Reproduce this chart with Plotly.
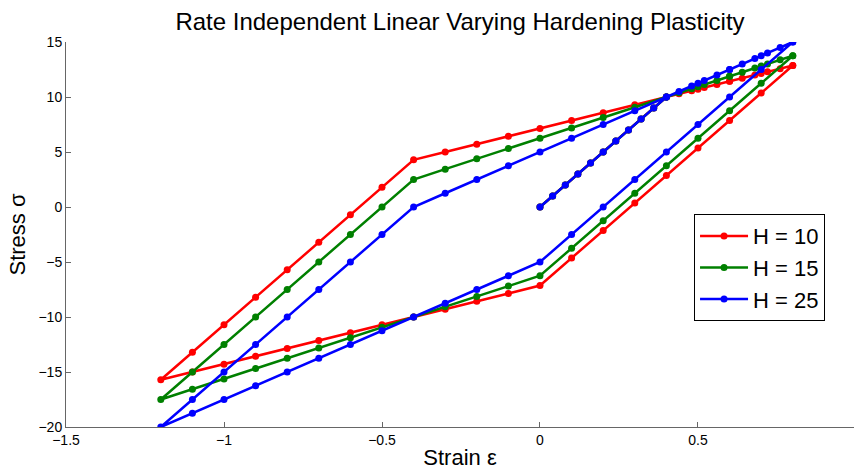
import plotly.graph_objects as go

# Strain path (loading 0->0.8, unloading to -1.2, reloading to 0.8)
strain = [0.0, 0.04, 0.08, 0.12, 0.16, 0.2, 0.24, 0.28, 0.32, 0.36, 0.4,
          0.44, 0.48, 0.52, 0.56, 0.6, 0.64, 0.68, 0.72, 0.76, 0.8,
          0.7, 0.6, 0.5, 0.4, 0.3, 0.2, 0.1, 0.0,
          -0.1, -0.2, -0.3, -0.4, -0.5, -0.6, -0.7, -0.8, -0.9, -1.0, -1.1, -1.2,
          -1.1, -1.0, -0.9, -0.8, -0.7, -0.6, -0.5, -0.4,
          -0.3, -0.2, -0.1, 0.0, 0.1, 0.2, 0.3, 0.4, 0.5, 0.6, 0.7, 0.8]

stress_h10 = [0, 1, 2, 3, 4, 5, 6, 7, 8, 9, 10,
              10.29, 10.57, 10.86, 11.14, 11.43, 11.71, 12.0, 12.29, 12.57, 12.86,
              10.36, 7.86, 5.36, 2.86, 0.36, -2.14, -4.64, -7.14,
              -7.86, -8.57, -9.29, -10.0, -10.71, -11.43, -12.14, -12.86, -13.57, -14.29, -15.0, -15.71,
              -13.21, -10.71, -8.21, -5.71, -3.21, -0.71, 1.79, 4.29,
              5.0, 5.71, 6.43, 7.14, 7.86, 8.57, 9.29, 10.0, 10.71, 11.43, 12.14, 12.86]

stress_h15 = [0, 1, 2, 3, 4, 5, 6, 7, 8, 9, 10,
              10.38, 10.75, 11.13, 11.5, 11.88, 12.25, 12.63, 13.0, 13.38, 13.75,
              11.25, 8.75, 6.25, 3.75, 1.25, -1.25, -3.75, -6.25,
              -7.19, -8.13, -9.06, -10.0, -10.94, -11.88, -12.81, -13.75, -14.69, -15.63, -16.56, -17.5,
              -15.0, -12.5, -10.0, -7.5, -5.0, -2.5, 0.0, 2.5,
              3.44, 4.38, 5.31, 6.25, 7.19, 8.13, 9.06, 10.0, 10.94, 11.88, 12.81, 13.75]

stress_h25 = [0, 1, 2, 3, 4, 5, 6, 7, 8, 9, 10,
              10.5, 11.0, 11.5, 12.0, 12.5, 13.0, 13.5, 14.0, 14.5, 15.0,
              12.5, 10.0, 7.5, 5.0, 2.5, 0.0, -2.5, -5.0,
              -6.25, -7.5, -8.75, -10.0, -11.25, -12.5, -13.75, -15.0, -16.25, -17.5, -18.75, -20.0,
              -17.5, -15.0, -12.5, -10.0, -7.5, -5.0, -2.5, 0.0,
              1.25, 2.5, 3.75, 5.0, 6.25, 7.5, 8.75, 10.0, 11.25, 12.5, 13.75, 15.0]

series = [("H = 10", stress_h10, "#ff0000"),
          ("H = 15", stress_h15, "#008000"),
          ("H = 25", stress_h25, "#0000ff")]

x_ticks = [-1.5, -1, -0.5, 0, 0.5, 1]
x_tick_text = ["\u22121.5", "\u22121", "\u22120.5", "0", "0.5", "1"]
y_ticks = [-20, -15, -10, -5, 0, 5, 10, 15]
y_tick_text = ["\u221220", "\u221215", "\u221210", "\u22125", "0", "5", "10", "15"]

fig = go.Figure()
for name, ys, col in series:
    fig.add_trace(go.Scatter(x=strain, y=ys, mode="lines+markers", name=name,
                             line=dict(color=col, width=2.5),
                             marker=dict(color=col, size=7)))

font_family = "Liberation Sans, Arial, sans-serif"
fig.update_layout(
    width=854, height=475,
    margin=dict(l=66, r=0, t=42, b=48),
    paper_bgcolor="white", plot_bgcolor="white",
    font=dict(family=font_family, color="black"),
    title=dict(text="Rate Independent Linear Varying Hardening Plasticity",
               x=0.5, xref="paper", y=0.955, yref="container",
               xanchor="center", yanchor="middle",
               font=dict(size=24, color="black")),
    xaxis=dict(range=[-1.5, 0.9937], tickvals=x_ticks, ticktext=x_tick_text,
               showgrid=False, zeroline=False, showline=True, linecolor="#666666",
               linewidth=1, ticks="inside", ticklen=5, tickcolor="#666666",
               tickfont=dict(size=14, color="black"),
               title=dict(text="Strain \u03b5", font=dict(size=22, color="black"), standoff=2)),
    yaxis=dict(range=[-20, 15], tickvals=y_ticks, ticktext=y_tick_text,
               showgrid=False, zeroline=False, showline=True, linecolor="#666666",
               linewidth=1, ticks="inside", ticklen=5, tickcolor="#666666",
               tickfont=dict(size=14, color="black"),
               title=dict(text="Stress \u03c3", font=dict(size=22, color="black"), standoff=6)),
    legend=dict(x=0.797, y=0.553, xanchor="left", yanchor="top",
                bgcolor="white", bordercolor="black", borderwidth=1,
                font=dict(size=22, color="black"), itemwidth=48,
                tracegroupgap=0),
    showlegend=True,
)

fig.write_html("out.html")
